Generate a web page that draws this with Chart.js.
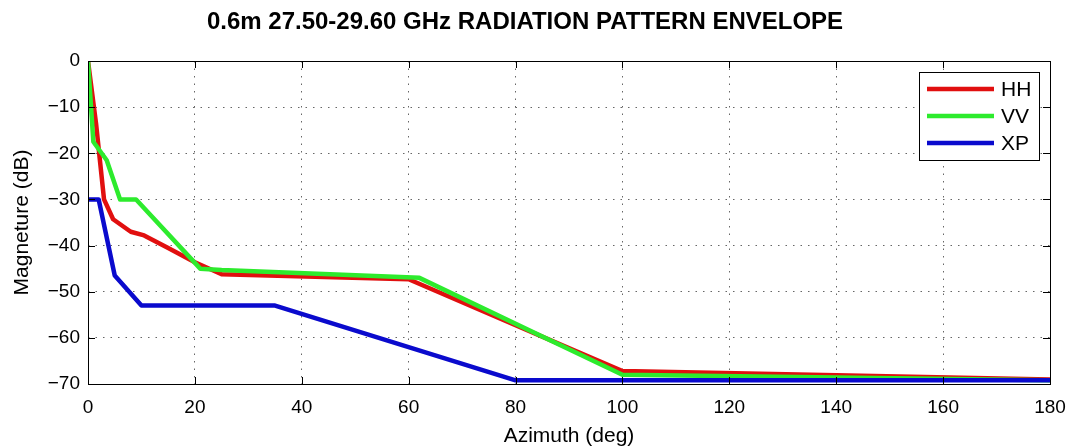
<!DOCTYPE html>
<html>
<head>
<meta charset="utf-8">
<script src="https://cdn.jsdelivr.net/npm/chart.js@4"></script>
<style>
  body { margin: 0; background: #fff; }
  canvas { display: block; }
</style>
</head>
<body>
<canvas id="myChart" width="1078" height="447"></canvas>
<script>
// envelope data (azimuth deg / magnitude dB)
const hhAz = [0, 1.5, 3, 4.7, 8, 10.5, 15, 20, 25, 60, 100, 180]
const hhDb = [0, -13.5, -30, -34.3, -37, -37.8, -40.5, -43.6, -46.2, -47.3, -67.2, -69]

const vvAz = [0, 1, 3.5, 6, 9, 21, 25, 62, 100, 180]
const vvDb = [0, -17.5, -21.5, -30, -30, -45, -45.3, -47, -68, -69.2]

const xpAz = [0, 2, 5, 10, 35, 80, 180]
const xpDb = [-30, -30, -46.5, -53, -53, -69.2, -69.2]

const xTicks = [0, 20, 40, 60, 80, 100, 120, 140, 160, 180]
const yTicks = [-70, -60, -50, -40, -30, -20, -10, 0]

const FONT = '"Liberation Sans", Arial, Helvetica, sans-serif'

const toPoints = (xs, ys) => xs.map((x, i) => ({ x: x, y: ys[i] }))

// MATLAB style box, inward ticks and legend
const boxPlugin = {
    id: 'matlabBox',
    afterDatasetsDraw(chart) {
        const ctx = chart.ctx
        const a = chart.chartArea
        const xs = chart.scales.x
        const ys = chart.scales.y
        ctx.save()
        ctx.strokeStyle = '#000'
        ctx.lineWidth = 1
        ctx.setLineDash([])
        ctx.strokeRect(a.left + 0.5, a.top + 0.5, a.right - a.left, a.bottom - a.top)
        const tl = 7
        ctx.beginPath()
        xTicks.forEach((v) => {
            const px = Math.round(xs.getPixelForValue(v)) + 0.5
            ctx.moveTo(px, a.bottom); ctx.lineTo(px, a.bottom - tl)
            ctx.moveTo(px, a.top); ctx.lineTo(px, a.top + tl)
        })
        yTicks.forEach((v) => {
            const py = Math.round(ys.getPixelForValue(v)) + 0.5
            ctx.moveTo(a.left, py); ctx.lineTo(a.left + tl, py)
            ctx.moveTo(a.right, py); ctx.lineTo(a.right - tl, py)
        })
        ctx.stroke()

        // legend
        const w = 120, h = 88
        const lx = a.right - 11 - w
        const ly = a.top + 11
        ctx.fillStyle = '#fff'
        ctx.fillRect(lx, ly, w, h)
        ctx.strokeRect(lx + 0.5, ly + 0.5, w, h)
        ctx.font = '21px ' + FONT
        ctx.textBaseline = 'middle'
        chart.data.datasets.forEach((ds, i) => {
            const yy = ly + 17 + i * 27
            ctx.strokeStyle = ds.borderColor
            ctx.lineWidth = 4.5
            ctx.beginPath()
            ctx.moveTo(lx + 8, yy)
            ctx.lineTo(lx + 75, yy)
            ctx.stroke()
            ctx.fillStyle = '#000'
            ctx.fillText(ds.label, lx + 82, yy + 1)
        })
        ctx.restore()
    }
}

const data = {
    datasets: [
        { label: 'HH', data: toPoints(hhAz, hhDb), borderColor: 'rgb(225,15,15)', order: 3 },
        { label: 'VV', data: toPoints(vvAz, vvDb), borderColor: 'rgb(45,235,45)', order: 2 },
        { label: 'XP', data: toPoints(xpAz, xpDb), borderColor: 'rgb(10,10,205)', order: 1 }
    ]
}
data.datasets.forEach((ds) => {
    ds.borderWidth = 4.5
    ds.pointRadius = 0
    ds.tension = 0
    ds.fill = false
    ds.borderJoinStyle = 'round'
})

const gridOpts = {
    color: 'rgba(0,0,0,0.6)',
    lineWidth: 1,
    drawTicks: false
}

const config = {
    type: 'line',
    data: data,
    options: {
        responsive: false,
        animation: false,
        devicePixelRatio: 1,
        layout: { padding: { left: 0, right: 28, top: 0, bottom: 0 } },
        plugins: {
            legend: { display: false },
            tooltip: { enabled: false },
            title: {
                display: true,
                text: '0.6m 27.50-29.60 GHz RADIATION PATTERN ENVELOPE',
                color: '#000',
                font: { family: FONT, size: 24, weight: 'bold', lineHeight: 1.2 },
                padding: { top: 8, bottom: 24.2 }
            }
        },
        scales: {
            x: {
                type: 'linear',
                min: 0,
                max: 180,
                grid: gridOpts,
                border: { display: false, dash: [1.5, 6] },
                afterFit: (scale) => { scale.height = 63 },
                afterBuildTicks: (scale) => { scale.ticks = xTicks.map((v) => ({ value: v })) },
                ticks: { color: '#000', padding: 12, maxRotation: 0, font: { family: FONT, size: 19 } },
                title: {
                    display: true,
                    text: 'Azimuth (deg)',
                    color: '#000',
                    font: { family: FONT, size: 21, lineHeight: 1 },
                    padding: 0
                }
            },
            y: {
                type: 'linear',
                min: -70,
                max: 0,
                grid: gridOpts,
                border: { display: false, dash: [1.5, 6] },
                afterFit: (scale) => { scale.width = 88 },
                afterBuildTicks: (scale) => { scale.ticks = yTicks.map((v) => ({ value: v })) },
                ticks: {
                    color: '#000', padding: 8,
                    font: { family: FONT, size: 19 },
                    callback: (v) => (v < 0 ? '\u2212' + Math.abs(v) : '' + v)
                },
                title: {
                    display: true,
                    text: 'Magneture (dB)',
                    color: '#000',
                    font: { family: FONT, size: 21, lineHeight: 1 },
                    padding: { top: 12, bottom: 0 }
                }
            }
        }
    },
    plugins: [boxPlugin]
}

const myChart = new Chart(document.getElementById('myChart'), config)
</script>
</body>
</html>
